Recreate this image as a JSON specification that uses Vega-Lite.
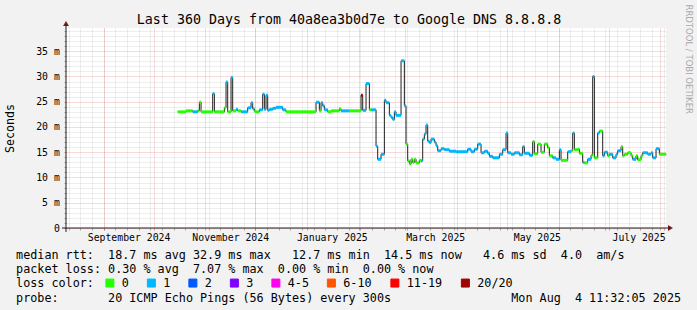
{
 "$schema":"https://vega.github.io/schema/vega-lite/v6.json",
 "width":600,"height":200,
 "autosize":{"type":"none"},
 "padding":{"left":66,"top":28,"right":31,"bottom":82},
 "background":"#f2f2f2",
 "config":{"view":{"fill":"#ffffff","stroke":null},"font":"DejaVu Sans Mono","axis":{"labelFont":"DejaVu Sans Mono","titleFont":"DejaVu Sans Mono","titleFontWeight":"normal"}},
 "datasets":{"rtt":[
  {"t":"2024-10-15T12:00","v":23.0,"l":"0"},{"t":"2024-10-20T12:00","v":23.2,"l":"0"},{"t":"2024-10-24T12:00","v":23.0,"l":"1"},{"t":"2024-10-27T12:00","v":23.2,"l":"0"},{"t":"2024-10-28T12:00","v":24.9,"l":"0"},{"t":"2024-10-29T12:00","v":23.0,"l":"0"},
  {"t":"2024-11-05T12:00","v":26.6,"l":"1"},{"t":"2024-11-06T12:00","v":23.0,"l":"0"},{"t":"2024-11-12T12:00","v":23.8,"l":"0"},{"t":"2024-11-13T12:00","v":28.9,"l":"1"},{"t":"2024-11-14T12:00","v":23.0,"l":"0"},{"t":"2024-11-16T12:00","v":29.8,"l":"1"},{"t":"2024-11-17T12:00","v":23.2,"l":"0"},{"t":"2024-11-19T12:00","v":23.5,"l":"1"},{"t":"2024-11-20T12:00","v":23.2,"l":"0"},{"t":"2024-11-22T12:00","v":23.0,"l":"1"},{"t":"2024-11-26T12:00","v":23.8,"l":"1"},{"t":"2024-11-28T12:00","v":24.8,"l":"1"},{"t":"2024-11-29T12:00","v":23.6,"l":"1"},{"t":"2024-11-30T12:00","v":23.1,"l":"0"},
  {"t":"2024-12-01T12:00","v":23.0,"l":"0"},{"t":"2024-12-03T12:00","v":23.4,"l":"1"},{"t":"2024-12-05T12:00","v":26.5,"l":"1"},{"t":"2024-12-06T12:00","v":23.5,"l":"1"},{"t":"2024-12-07T12:00","v":26.3,"l":"1"},{"t":"2024-12-08T12:00","v":23.3,"l":"1"},{"t":"2024-12-09T12:00","v":23.5,"l":"1"},{"t":"2024-12-11T12:00","v":23.7,"l":"1"},{"t":"2024-12-13T12:00","v":23.9,"l":"1"},{"t":"2024-12-17T12:00","v":23.4,"l":"1"},{"t":"2024-12-19T12:00","v":23.0,"l":"0"},
  {"t":"2025-01-06T12:00","v":24.9,"l":"1"},{"t":"2025-01-08T12:00","v":23.2,"l":"0"},{"t":"2025-01-09T12:00","v":24.8,"l":"1"},{"t":"2025-01-10T12:00","v":24.2,"l":"1"},{"t":"2025-01-11T12:00","v":23.4,"l":"1"},{"t":"2025-01-13T12:00","v":23.0,"l":"0"},{"t":"2025-01-15T12:00","v":23.2,"l":"0"},{"t":"2025-01-20T12:00","v":23.6,"l":"0"},{"t":"2025-01-21T12:00","v":23.2,"l":"1"},{"t":"2025-01-26T12:00","v":23.2,"l":"0"},
  {"t":"2025-02-02T12:00","v":26.3,"l":"20/20"},{"t":"2025-02-03T12:00","v":23.3,"l":"1"},{"t":"2025-02-05T12:00","v":28.6,"l":"1"},{"t":"2025-02-07T12:00","v":23.4,"l":"0"},{"t":"2025-02-08T12:00","v":23.4,"l":"1"},{"t":"2025-02-11T12:00","v":16.2,"l":"1"},{"t":"2025-02-12T12:00","v":13.6,"l":"1"},{"t":"2025-02-14T12:00","v":14.6,"l":"1"},{"t":"2025-02-16T12:00","v":25.3,"l":"1"},{"t":"2025-02-17T12:00","v":24.8,"l":"1"},{"t":"2025-02-19T12:00","v":22.3,"l":"1"},{"t":"2025-02-20T12:00","v":21.9,"l":"1"},{"t":"2025-02-21T12:00","v":21.5,"l":"1"},{"t":"2025-02-22T12:00","v":23.0,"l":"1"},{"t":"2025-02-23T12:00","v":22.3,"l":"1"},{"t":"2025-02-26T12:00","v":33.1,"l":"1"},{"t":"2025-02-28T12:00","v":24.2,"l":"1"},
  {"t":"2025-03-01T12:00","v":16.6,"l":"0"},{"t":"2025-03-02T12:00","v":13.3,"l":"0"},{"t":"2025-03-03T12:00","v":12.7,"l":"0"},{"t":"2025-03-04T12:00","v":13.6,"l":"0"},{"t":"2025-03-05T12:00","v":13.0,"l":"0"},{"t":"2025-03-06T12:00","v":13.6,"l":"0"},{"t":"2025-03-07T12:00","v":12.9,"l":"0"},{"t":"2025-03-09T12:00","v":13.4,"l":"0"},{"t":"2025-03-10T12:00","v":13.3,"l":"1"},{"t":"2025-03-11T12:00","v":17.6,"l":"1"},{"t":"2025-03-12T12:00","v":18.6,"l":"1"},{"t":"2025-03-13T12:00","v":20.4,"l":"1"},{"t":"2025-03-14T12:00","v":17.2,"l":"1"},{"t":"2025-03-15T12:00","v":16.9,"l":"1"},{"t":"2025-03-16T12:00","v":17.6,"l":"1"},{"t":"2025-03-18T12:00","v":17.0,"l":"1"},{"t":"2025-03-19T12:00","v":16.3,"l":"1"},{"t":"2025-03-20T12:00","v":15.3,"l":"1"},{"t":"2025-03-22T12:00","v":15.7,"l":"1"},{"t":"2025-03-24T12:00","v":15.5,"l":"1"},{"t":"2025-03-27T12:00","v":15.2,"l":"1"},{"t":"2025-03-31T12:00","v":15.1,"l":"1"},
  {"t":"2025-04-07T12:00","v":15.6,"l":"1"},{"t":"2025-04-09T12:00","v":15.1,"l":"1"},{"t":"2025-04-11T12:00","v":15.6,"l":"1"},{"t":"2025-04-13T12:00","v":16.6,"l":"1"},{"t":"2025-04-15T12:00","v":14.9,"l":"1"},{"t":"2025-04-17T12:00","v":15.2,"l":"1"},{"t":"2025-04-19T12:00","v":14.8,"l":"1"},{"t":"2025-04-20T12:00","v":14.2,"l":"1"},{"t":"2025-04-22T12:00","v":13.9,"l":"1"},{"t":"2025-04-26T12:00","v":14.6,"l":"1"},{"t":"2025-04-28T12:00","v":15.5,"l":"1"},{"t":"2025-04-30T12:00","v":18.8,"l":"1"},
  {"t":"2025-05-01T12:00","v":14.9,"l":"1"},{"t":"2025-05-03T12:00","v":14.6,"l":"1"},{"t":"2025-05-05T12:00","v":14.9,"l":"1"},{"t":"2025-05-08T12:00","v":14.5,"l":"1"},{"t":"2025-05-10T12:00","v":16.1,"l":"1"},{"t":"2025-05-11T12:00","v":14.8,"l":"1"},{"t":"2025-05-14T12:00","v":14.4,"l":"1"},{"t":"2025-05-16T12:00","v":17.1,"l":"0"},{"t":"2025-05-17T12:00","v":14.7,"l":"0"},{"t":"2025-05-19T12:00","v":16.6,"l":"0"},{"t":"2025-05-21T12:00","v":15.0,"l":"0"},{"t":"2025-05-23T12:00","v":16.6,"l":"0"},{"t":"2025-05-25T12:00","v":15.9,"l":"0"},{"t":"2025-05-26T12:00","v":14.3,"l":"0"},{"t":"2025-05-28T12:00","v":13.9,"l":"1"},{"t":"2025-05-30T12:00","v":13.6,"l":"1"},
  {"t":"2025-06-01T12:00","v":15.5,"l":"1"},{"t":"2025-06-02T12:00","v":13.4,"l":"0"},{"t":"2025-06-06T12:00","v":15.1,"l":"1"},{"t":"2025-06-08T12:00","v":15.3,"l":"0"},{"t":"2025-06-09T12:00","v":18.8,"l":"1"},{"t":"2025-06-10T12:00","v":15.5,"l":"0"},{"t":"2025-06-12T12:00","v":15.6,"l":"0"},{"t":"2025-06-13T12:00","v":14.8,"l":"0"},{"t":"2025-06-15T12:00","v":13.0,"l":"1"},{"t":"2025-06-16T12:00","v":12.9,"l":"0"},{"t":"2025-06-18T12:00","v":13.6,"l":"1"},{"t":"2025-06-20T12:00","v":14.4,"l":"0"},{"t":"2025-06-21T12:00","v":30.0,"l":"1"},{"t":"2025-06-22T12:00","v":13.9,"l":"0"},{"t":"2025-06-24T12:00","v":18.8,"l":"1"},{"t":"2025-06-25T12:00","v":19.2,"l":"0"},{"t":"2025-06-27T12:00","v":14.3,"l":"1"},{"t":"2025-06-28T12:00","v":15.0,"l":"1"},{"t":"2025-06-30T12:00","v":14.3,"l":"0"},
  {"t":"2025-07-01T12:00","v":14.6,"l":"1"},{"t":"2025-07-03T12:00","v":13.9,"l":"1"},{"t":"2025-07-05T12:00","v":14.6,"l":"1"},{"t":"2025-07-06T12:00","v":15.3,"l":"1"},{"t":"2025-07-08T12:00","v":16.1,"l":"0"},{"t":"2025-07-09T12:00","v":14.3,"l":"0"},{"t":"2025-07-10T12:00","v":14.6,"l":"0"},{"t":"2025-07-12T12:00","v":14.9,"l":"0"},{"t":"2025-07-14T12:00","v":14.3,"l":"0"},{"t":"2025-07-15T12:00","v":13.6,"l":"1"},{"t":"2025-07-17T12:00","v":14.3,"l":"0"},{"t":"2025-07-18T12:00","v":13.5,"l":"0"},{"t":"2025-07-20T12:00","v":14.3,"l":"0"},{"t":"2025-07-21T12:00","v":14.9,"l":"1"},{"t":"2025-07-24T12:00","v":14.6,"l":"1"},{"t":"2025-07-26T12:00","v":14.9,"l":"1"},{"t":"2025-07-27T12:00","v":13.9,"l":"1"},{"t":"2025-07-29T12:00","v":15.7,"l":"1"},{"t":"2025-07-31T12:00","v":14.6,"l":"0"},{"t":"2025-08-04T11:32","v":14.5,"l":"0"}
 ]},
 "layer":[
  {
   "data":{"name":"rtt"},
   "mark":{"type":"line","interpolate":"step-after","color":"#202020","strokeWidth":1},
   "encoding":{
    "x":{"field":"t","type":"temporal",
     "scale":{"domain":[{"year":2024,"month":8,"date":9,"hours":11,"minutes":32},{"year":2025,"month":8,"date":4,"hours":11,"minutes":32}]},
     "axis":{"orient":"bottom","title":null,"labels":false,"domain":false,"ticks":true,"tickSize":2,"tickColor":"#8f8f8f","tickOpacity":0.75,"grid":true,"gridColor":"#8f8f8f","gridOpacity":0.6,"gridWidth":0.5,"gridDash":[1,1],"tickCount":{"interval":"week","step":1}}},
    "y":{"field":"v","type":"quantitative",
     "scale":{"domain":[0,39.6],"nice":false,"zero":false},
     "axis":{"orient":"left","title":null,"labels":false,"domain":false,"ticks":true,"tickSize":2,"tickColor":"#8f8f8f","tickOpacity":0.75,"grid":true,"gridColor":"#8f8f8f","gridOpacity":0.6,"gridWidth":0.5,"gridDash":[1,1],
      "values":[1,2,3,4,6,7,8,9,11,12,13,14,16,17,18,19,21,22,23,24,26,27,28,29,31,32,33,34,36,37,38,39]}}
   }
  },
  {
   "data":{"name":"rtt"},
   "transform":[{"window":[{"op":"lead","field":"t","as":"t2"}]},{"filter":"datum.t2 != null"}],
   "mark":{"type":"rule","strokeWidth":3,"strokeCap":"butt"},
   "encoding":{
    "x":{"field":"t","type":"temporal",
     "scale":{"domain":[{"year":2024,"month":8,"date":9,"hours":11,"minutes":32},{"year":2025,"month":8,"date":4,"hours":11,"minutes":32}]},
     "axis":{"orient":"bottom","title":null,"labels":false,"domain":false,"ticks":true,"tickSize":2,"tickColor":"#de4f4f","tickOpacity":0.6,"grid":true,"gridColor":"#de4f4f","gridOpacity":0.6,"gridWidth":0.7,"gridDash":[1,1],"tickCount":{"interval":"month","step":1}}},
    "x2":{"field":"t2"},
    "y":{"field":"v","type":"quantitative",
     "scale":{"domain":[0,39.6],"nice":false,"zero":false},
     "axis":{"orient":"left","values":[0,5,10,15,20,25,30,35],"labelExpr":"datum.value == 0 ? '0' : datum.value + ' m'","labelFontSize":9.8,"labelColor":"#000000","labelPadding":4.7,
      "ticks":true,"tickSize":2,"tickColor":"#de4f4f","tickOpacity":0.6,"grid":true,"gridColor":"#de4f4f","gridOpacity":0.6,"gridWidth":0.7,"gridDash":[1,1],"domain":false,
      "title":"Seconds","titleFontSize":11.6,"titleColor":"#000000","titleX":-55.5,"titleY":100,"titleAngle":-90,"titleAlign":"center","titleBaseline":"middle"}},
    "color":{"field":"l","type":"nominal",
     "scale":{"domain":["0","1","2","3","4-5","6-10","11-19","20/20"],"range":["#26ff00","#00b8ff","#0059ff","#7e00ff","#ff00ea","#ff5500","#ff0000","#a10000"]},
     "legend":{"orient":"none","legendX":38,"legendY":249,"direction":"horizontal","title":null,"padding":0,
      "labelFont":"DejaVu Sans Mono","labelFontSize":11.76,"labelColor":"#000000","labelOffset":6,"columnPadding":15.5,
      "symbolType":"square","symbolSize":64,"symbolStrokeWidth":1,"symbolStrokeColor":"#000000",
      "encode":{"symbols":{"update":{"fill":{"scale":"color","field":"value"},"stroke":{"value":"#000000"},"strokeWidth":{"value":1},"opacity":{"value":1},"shape":{"value":"square"},"size":{"value":64}}}}}}
   }
  },
  {
   "data":{"values":[{}]},
   "mark":{"type":"point","shape":"M-1,0L1,0L0,-1.6667Z","filled":true,"size":36,"color":"#801f1f","opacity":1},
   "encoding":{
    "x":{"datum":{"year":2024,"month":8,"date":9,"hours":11,"minutes":32},"type":"temporal",
     "axis":{"orient":"bottom","values":[{"year":2024,"month":9,"date":16},{"year":2024,"month":11,"date":16},{"year":2025,"month":1,"date":16},{"year":2025,"month":3,"date":19},{"year":2025,"month":5,"date":19},{"year":2025,"month":7,"date":19}],
      "format":"%B %Y","labelFontSize":9.8,"labelColor":"#000000","labelPadding":4,"labelFlush":false,"labelOverlap":false,"ticks":false,"domain":false,"grid":false,
      "title":["median\u00a0rtt:\u00a0\u00a018.7\u00a0ms\u00a0avg\u00a032.9\u00a0ms\u00a0max\u00a0\u00a0\u00a012.7\u00a0ms\u00a0min\u00a0\u00a014.5\u00a0ms\u00a0now\u00a0\u00a0\u00a04.6\u00a0ms\u00a0sd\u00a0\u00a04.0\u00a0\u00a0am/s",
               "packet\u00a0loss:\u00a00.30\u00a0%\u00a0avg\u00a0\u00a07.07\u00a0%\u00a0max\u00a0\u00a00.00\u00a0%\u00a0min\u00a0\u00a00.00\u00a0%\u00a0now",
               "loss\u00a0color:",
               "probe:\u00a0\u00a0\u00a0\u00a0\u00a0\u00a0\u00a020\u00a0ICMP\u00a0Echo\u00a0Pings\u00a0(56\u00a0Bytes)\u00a0every\u00a0300s\u00a0\u00a0\u00a0\u00a0\u00a0\u00a0\u00a0\u00a0\u00a0\u00a0\u00a0\u00a0\u00a0\u00a0\u00a0\u00a0\u00a0Mon\u00a0Aug\u00a0\u00a04\u00a011:32:05\u00a02025"],
      "titleFontSize":11.76,"titleColor":"#000000","titleX":-50.4,"titleY":30.6,"titleAlign":"left","titleBaseline":"alphabetic","titleLineHeight":14.2,"titleLimit":2000,"titleAngle":0}},
    "y":{"datum":40.0,"type":"quantitative",
     "axis":{"orient":"right","labels":false,"ticks":false,"domain":false,"grid":false,
      "title":"RRDTOOL / TOBI OETIKER","titleFont":"DejaVu Sans","titleFontSize":8.5,"titleColor":"#aaaaaa","titleAngle":90,"titleX":22,"titleY":-24,"titleAlign":"left","titleBaseline":"middle","titleLimit":2000}}
   }
  },
  {
   "data":{"values":[{}]},
   "mark":{"type":"point","shape":"M0,-1L0,1L1.6667,0Z","filled":true,"size":36,"color":"#801f1f","opacity":1},
   "encoding":{
    "x":{"datum":{"year":2025,"month":8,"date":5,"hours":16,"minutes":20},"type":"temporal",
     "axis":{"orient":"top","labels":false,"ticks":false,"domain":false,"grid":false,
      "title":"Last 360 Days from 40a8ea3b0d7e to Google DNS 8.8.8.8","titleFontSize":13.3,"titleColor":"#000000","titleX":282.5,"titleY":-4.5,"titleAlign":"center","titleBaseline":"alphabetic","titleAngle":0,"titleLimit":2000}},
    "y":{"datum":0,"type":"quantitative","axis":null}
   }
  },
  {
   "data":{"values":[{}]},
   "mark":{"type":"rule","color":"#1f1f1f","strokeWidth":1},
   "encoding":{
    "x":{"datum":{"year":2024,"month":8,"date":7,"hours":1,"minutes":56},"type":"temporal","axis":null},
    "x2":{"datum":{"year":2025,"month":8,"date":6,"hours":21,"minutes":8}},
    "y":{"datum":0,"type":"quantitative","axis":null}
   }
  },
  {
   "data":{"values":[{}]},
   "mark":{"type":"rule","color":"#1f1f1f","strokeWidth":1},
   "encoding":{
    "x":{"datum":{"year":2024,"month":8,"date":9,"hours":11,"minutes":32},"type":"temporal","axis":null},
    "y":{"datum":-0.8,"type":"quantitative","axis":null},
    "y2":{"datum":40.4}
   }
  }
 ],
 "resolve":{"axis":{"x":"independent","y":"independent"}}
}
